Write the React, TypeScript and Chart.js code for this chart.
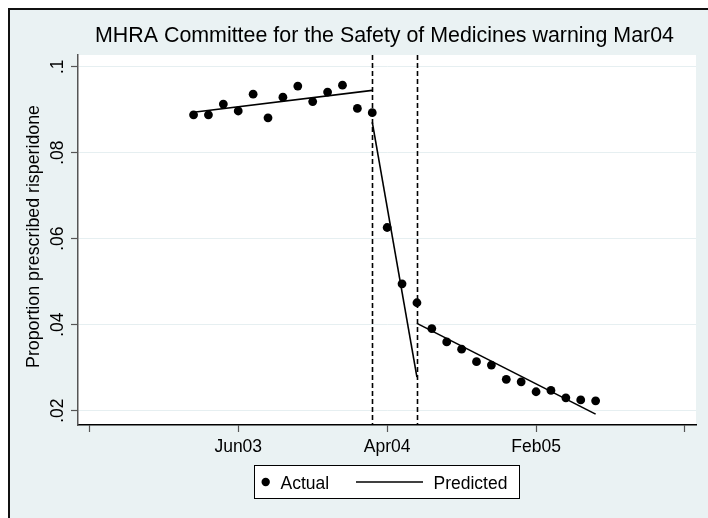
import { useEffect, useRef } from "react";
import { Chart, registerables } from "chart.js";

Chart.register(...registerables);

const TITLE = "MHRA Committee for the Safety of Medicines warning Mar04";
const Y_TITLE = "Proportion prescribed risperidone";
const LABEL_ACTUAL = "Actual";
const LABEL_PREDICTED = "Predicted";

// Monthly time index (months since Jan 1960): 518 = Mar03 ... 545 = Jun05
const ACTUAL_MONTHS = [
  518, 519, 520, 521, 522, 523, 524, 525, 526, 527, 528, 529, 530,
  531, 532, 533, 534, 535, 536, 537, 538, 539, 540, 541, 542, 543, 544, 545,
];
const ACTUAL = [
  0.0888, 0.0888, 0.0913, 0.0897, 0.0936, 0.0881, 0.0929, 0.0955, 0.0919, 0.0941, 0.0957, 0.0903, 0.0893,
  0.0626, 0.0495, 0.0451, 0.0391, 0.036, 0.0343, 0.0314, 0.0306, 0.0273, 0.0267, 0.0244, 0.0247, 0.023, 0.0225, 0.0223,
];

// Predicted segments (pre-warning, transition, post)
const PRED_PRE_MONTHS = [518, 530];
const PRED_PRE = [0.0894, 0.0945];
const PRED_MID_MONTHS = [530, 533];
const PRED_MID = [0.0871, 0.0278];
const PRED_POST_MONTHS = [533, 545];
const PRED_POST = [0.0403, 0.0192];

const WARNING_LINES = [530, 533];

const X_TICKS = [511, 521, 531, 541, 551];
const X_TICK_LABELS = ["", "Jun03", "Apr04", "Feb05", ""];
const Y_TICKS = [0.02, 0.04, 0.06, 0.08, 0.1];
const Y_TICK_LABELS = [".02", ".04", ".06", ".08", ".1"];

const X_MIN = 510.24;
const X_MAX = 551.74;
const Y_MIN = 0.01667;
const Y_MAX = 0.10272;

const FONT = "'Liberation Sans', Arial, sans-serif";
const BG = "#EAF2F3";

const toPoints = (xs: number[], ys: number[]) => xs.map((x, i) => ({ x, y: ys[i] }));

const decorPlugin = {
  id: "decor",
  beforeDraw(chart: any) {
    const ctx = chart.ctx;
    const { width, height } = chart;
    const a = chart.chartArea;
    ctx.save();
    ctx.fillStyle = "#ffffff";
    ctx.fillRect(0, 0, width, height);
    ctx.fillStyle = BG;
    ctx.fillRect(8, 8, width - 8, height - 8);
    ctx.fillStyle = "#111111";
    ctx.fillRect(8, 8, 2, height - 8);
    ctx.fillRect(8, 8, width - 8, 2);
    ctx.fillStyle = "#ffffff";
    ctx.fillRect(a.left, a.top, a.right - a.left, a.bottom - a.top);
    ctx.restore();
  },
  beforeDatasetsDraw(chart: any) {
    const ctx = chart.ctx;
    const a = chart.chartArea;
    const xs = chart.scales.x;
    ctx.save();
    ctx.strokeStyle = "#000";
    ctx.lineWidth = 1.6;
    ctx.setLineDash([5, 3]);
    WARNING_LINES.forEach((m) => {
      const px = Math.round(xs.getPixelForValue(m)) + 0.5;
      ctx.beginPath();
      ctx.moveTo(px, a.top);
      ctx.lineTo(px, a.bottom);
      ctx.stroke();
    });
    ctx.restore();
  },
  afterDraw(chart: any) {
    const ctx = chart.ctx;
    const ys = chart.scales.y;
    ctx.save();
    ctx.fillStyle = "#000";
    // Title
    ctx.font = `21.4px ${FONT}`;
    ctx.textAlign = "center";
    ctx.textBaseline = "alphabetic";
    ctx.fillText(TITLE, 384.5, 42);
    // Y tick labels (rotated)
    ctx.font = `17.5px ${FONT}`;
    Y_TICKS.forEach((v, i) => {
      const py = ys.getPixelForValue(v);
      ctx.save();
      ctx.translate(63, py);
      ctx.rotate(-Math.PI / 2);
      ctx.textAlign = "center";
      ctx.fillText(Y_TICK_LABELS[i], 0, 0);
      ctx.restore();
    });
    // Y title
    ctx.save();
    ctx.font = `17.8px ${FONT}`;
    ctx.translate(38.5, 236.5);
    ctx.rotate(-Math.PI / 2);
    ctx.textAlign = "center";
    ctx.fillText(Y_TITLE, 0, 0);
    ctx.restore();
    // Legend
    ctx.fillStyle = "#fff";
    ctx.fillRect(254, 465, 266, 34);
    ctx.strokeStyle = "#000";
    ctx.lineWidth = 1;
    ctx.strokeRect(254.5, 465.5, 265, 33);
    ctx.fillStyle = "#000";
    ctx.beginPath();
    ctx.arc(265.7, 482, 4.2, 0, Math.PI * 2);
    ctx.fill();
    ctx.textAlign = "left";
    ctx.fillText(LABEL_ACTUAL, 280.5, 489);
    ctx.lineWidth = 1.6;
    ctx.beginPath();
    ctx.moveTo(356, 482);
    ctx.lineTo(423, 482);
    ctx.stroke();
    ctx.fillText(LABEL_PREDICTED, 433.5, 489);
    ctx.restore();
  },
};

export default function App() {
  const ref = useRef<HTMLCanvasElement | null>(null);

  useEffect(() => {
    if (!ref.current) return;
    const lineDs = (label: string, xs: number[], ys: number[]) => ({
      label,
      data: toPoints(xs, ys),
      showLine: true,
      borderColor: "#000",
      borderWidth: 1.6,
      pointRadius: 0,
      pointHoverRadius: 0,
      fill: false,
      order: 0,
    });
    const chart = new Chart(ref.current, {
      type: "scatter",
      data: {
        datasets: [
          {
            label: LABEL_ACTUAL,
            data: toPoints(ACTUAL_MONTHS, ACTUAL),
            backgroundColor: "#000",
            borderColor: "#000",
            pointRadius: 4.4,
            pointBorderWidth: 0,
            order: 1,
          } as any,
          lineDs(LABEL_PREDICTED, PRED_PRE_MONTHS, PRED_PRE),
          lineDs(LABEL_PREDICTED, PRED_MID_MONTHS, PRED_MID),
          lineDs(LABEL_PREDICTED, PRED_POST_MONTHS, PRED_POST),
        ],
      },
      options: {
        animation: false,
        responsive: false,
        devicePixelRatio: 1,
        layout: { padding: { left: 0, top: 55, right: 12, bottom: 0 } },
        plugins: {
          legend: { display: false },
          title: { display: false },
          tooltip: { enabled: false },
        },
        scales: {
          x: {
            type: "linear",
            min: X_MIN,
            max: X_MAX,
            afterBuildTicks: (s: any) => {
              s.ticks = X_TICKS.map((v) => ({ value: v }));
            },
            afterFit: (s: any) => {
              s.height = 93;
            },
            ticks: {
              autoSkip: false,
              maxRotation: 0,
              minRotation: 0,
              padding: 5,
              color: "#000",
              font: { family: FONT, size: 17.5 },
              callback: (v: any) => {
                const i = X_TICKS.indexOf(Number(v));
                return i >= 0 ? X_TICK_LABELS[i] : "";
              },
            },
            grid: {
              drawOnChartArea: false,
              drawTicks: true,
              tickLength: 7,
              tickColor: "#555",
              tickWidth: 1.2,
            },
            border: { display: true, color: "#000", width: 1.5 },
          },
          y: {
            type: "linear",
            min: Y_MIN,
            max: Y_MAX,
            afterBuildTicks: (s: any) => {
              s.ticks = Y_TICKS.map((v) => ({ value: v }));
            },
            afterFit: (s: any) => {
              s.width = 78;
            },
            ticks: { display: false },
            grid: {
              color: "#E6EFF1",
              lineWidth: 1,
              drawTicks: true,
              tickLength: 7,
              tickColor: "#555",
              tickWidth: 1.2,
            },
            border: { display: true, color: "#555", width: 1.5 },
          },
        },
      },
      plugins: [decorPlugin],
    } as any);
    return () => chart.destroy();
  }, []);

  return (
    <div style={{ position: "fixed", left: 0, top: 0, width: 708, height: 518 }}>
      <canvas ref={ref} width={708} height={518} style={{ display: "block", width: 708, height: 518 }} />
    </div>
  );
}
